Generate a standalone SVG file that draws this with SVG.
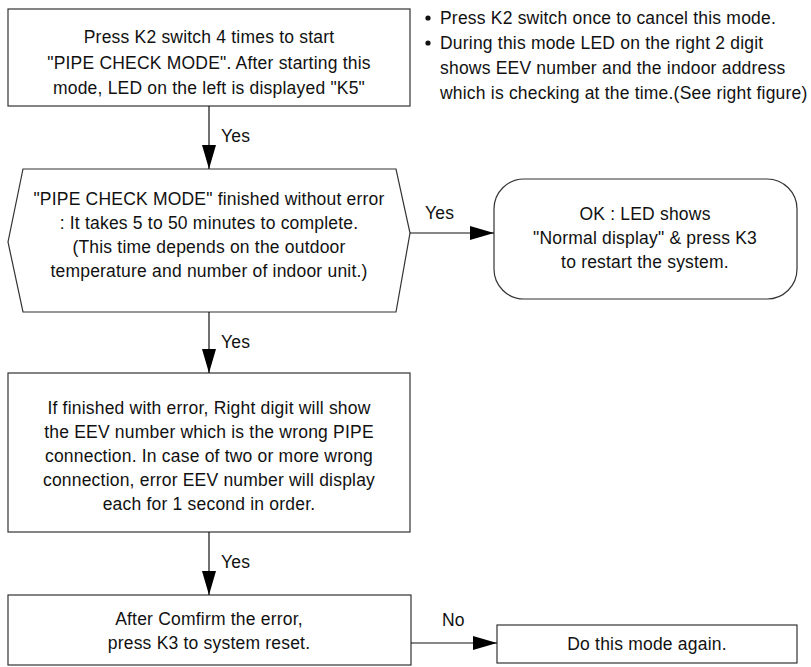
<svg xmlns="http://www.w3.org/2000/svg" width="811" height="667" viewBox="0 0 811 667">
<defs>
<marker id="ah" markerUnits="userSpaceOnUse" markerWidth="24" markerHeight="14" refX="24" refY="7" orient="auto">
<path d="M0,0 L24,7 L0,14 Z" fill="#000"/>
</marker>
<style>
.box{fill:#fff;stroke:#333;stroke-width:1.2}
.t{font-family:"Liberation Sans",Arial,sans-serif;font-size:17.5px;letter-spacing:0.2px;fill:#111;text-anchor:middle}
.l{font-family:"Liberation Sans",Arial,sans-serif;font-size:17.5px;letter-spacing:0.2px;fill:#111}
.c{stroke:#111;stroke-width:1.2;fill:none;marker-end:url(#ah)}
</style>
</defs>
<rect width="811" height="667" fill="#fff"/>
<g id="notes">
<circle cx="428" cy="18" r="2.6" fill="#111"/>
<circle cx="428" cy="43" r="2.6" fill="#111"/>
<text class="l" x="440" y="24">Press K2 switch once to cancel this mode.</text>
<text class="l" x="440" y="49">During this mode LED on the right 2 digit</text>
<text class="l" x="440" y="74">shows EEV number and the indoor address</text>
<text class="l" x="440" y="99">which is checking at the time.(See right figure)</text>
</g>
<g id="start">
<rect class="box" x="8" y="9" width="402" height="97"/>
<text class="t" x="209" y="43">Press K2 switch 4 times to start</text>
<text class="t" x="209" y="69">"PIPE CHECK MODE". After starting this</text>
<text class="t" x="209" y="94">mode, LED on the left is displayed "K5"</text>
</g>
<g id="check">
<polygon class="box" points="23,169 396,169 410,233 396,312 23,312 8,242"/>
<text class="t" x="209" y="205">"PIPE CHECK MODE" finished without error</text>
<text class="t" x="209" y="229">: It takes 5 to 50 minutes to complete.</text>
<text class="t" x="209" y="253">(This time depends on the outdoor</text>
<text class="t" x="209" y="277">temperature and number of indoor unit.)</text>
</g>
<g id="ok">
<rect class="box" x="494" y="179" width="303" height="120" rx="30" ry="30"/>
<text class="t" x="645" y="220">OK : LED shows</text>
<text class="t" x="645" y="244">"Normal display" &amp; press K3</text>
<text class="t" x="645" y="268">to restart the system.</text>
</g>
<g id="error">
<rect class="box" x="8" y="373" width="402" height="159"/>
<text class="t" x="209" y="414">If finished with error, Right digit will show</text>
<text class="t" x="209" y="438">the EEV number which is the wrong PIPE</text>
<text class="t" x="209" y="462">connection. In case of two or more wrong</text>
<text class="t" x="209" y="486">connection, error EEV number will display</text>
<text class="t" x="209" y="510">each for 1 second in order.</text>
</g>
<g id="reset">
<rect class="box" x="8" y="595" width="403" height="70"/>
<text class="t" x="209" y="625">After Comfirm the error,</text>
<text class="t" x="209" y="649">press K3 to system reset.</text>
</g>
<g id="again">
<rect class="box" x="497" y="625" width="300" height="38"/>
<text class="t" x="647" y="650">Do this mode again.</text>
</g>
<g id="connectors">
<line class="c" x1="209" y1="106" x2="209" y2="169"/>
<line class="c" x1="410" y1="233" x2="494" y2="233"/>
<line class="c" x1="209" y1="312" x2="209" y2="373"/>
<line class="c" x1="209" y1="532" x2="209" y2="595"/>
<line class="c" x1="411" y1="643" x2="497" y2="643"/>
<text class="l" x="221" y="142">Yes</text>
<text class="l" x="425" y="219">Yes</text>
<text class="l" x="221" y="348">Yes</text>
<text class="l" x="221" y="568">Yes</text>
<text class="l" x="442" y="626">No</text>
</g>
</svg>
